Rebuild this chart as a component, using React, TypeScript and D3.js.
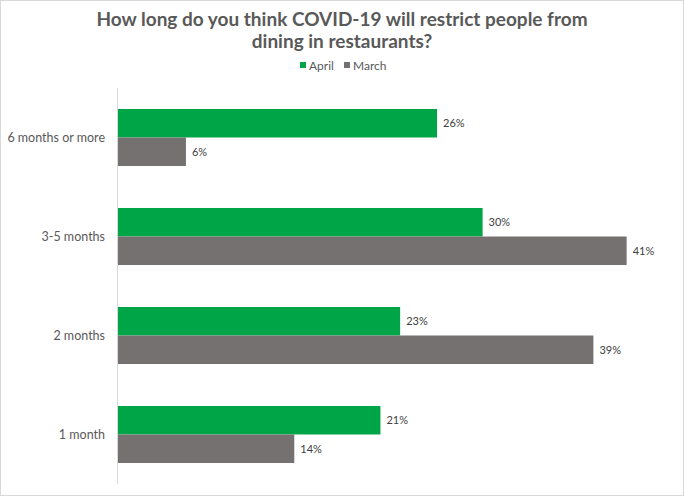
import { useEffect, useRef } from 'react';
import * as d3 from 'd3';

const categories = ['6 months or more', '3-5 months', '2 months', '1 month'];
const series = ['April', 'March'];
const april = [0.26, 0.297, 0.23, 0.214];
const march = [0.056, 0.414, 0.387, 0.144];
const colors = ['#00a548', '#767171'];
const titleLines = ['How long do you think COVID-19 will restrict people from', 'dining in restaurants?'];

const W = 684;
const H = 496;
const FONT = 'Lato, "Open Sans", sans-serif';

export default function App() {
  const svgRef = useRef<SVGSVGElement>(null);

  useEffect(() => {
    document.body.style.margin = '0';
    if (!svgRef.current) return;
    const svg = d3.select(svgRef.current);
    svg.selectAll('*').remove();

    const margin = { top: 88, right: 14, bottom: 12, left: 117 };
    const plotH = H - margin.top - margin.bottom;

    // border
    svg.append('rect')
      .attr('x', 0.5).attr('y', 0.5)
      .attr('width', W - 1).attr('height', H - 1)
      .attr('fill', '#fff')
      .attr('stroke', '#d9d9d9');

    // title
    svg.append('text')
      .attr('x', W / 2)
      .attr('text-anchor', 'middle')
      .style('font-family', FONT)
      .style('font-size', '19px')
      .style('font-weight', '700')
      .style('fill', '#595959')
      .selectAll('tspan')
      .data(titleLines)
      .enter()
      .append('tspan')
      .attr('x', W / 2)
      .attr('y', (_, i) => 26 + i * 22)
      .text(d => d);

    const g = svg.append('g').attr('transform', `translate(${margin.left},${margin.top})`);

    const x = d3.scaleLinear().domain([0, 0.45]).range([0, 0.45 * 1231]);
    const y = d3.scaleBand<string>().domain(categories).range([0, plotH]).paddingInner(0.424).paddingOuter(0.212);
    const y1 = d3.scaleBand<string>().domain(series).range([0, y.bandwidth()]);

    const rows = categories.map((c, i) => ({ cat: c, vals: [april[i], march[i]] }));

    const grp = g.selectAll('g.cat')
      .data(rows)
      .enter()
      .append('g')
      .attr('transform', d => `translate(0,${y(d.cat)})`);

    grp.selectAll('rect')
      .data(d => d.vals.map((v, j) => ({ s: series[j], v, j })))
      .enter()
      .append('rect')
      .attr('x', 0)
      .attr('y', d => y1(d.s) ?? 0)
      .attr('width', d => x(d.v))
      .attr('height', y1.bandwidth())
      .attr('fill', d => colors[d.j]);

    grp.selectAll('text.val')
      .data(d => d.vals.map((v, j) => ({ s: series[j], v, j })))
      .enter()
      .append('text')
      .attr('class', 'val')
      .attr('x', d => x(d.v) + 6)
      .attr('y', d => (y1(d.s) ?? 0) + y1.bandwidth() / 2)
      .attr('dy', '0.35em')
      .style('font-family', FONT)
      .style('font-size', '11px')
      .style('fill', '#404040')
      .text(d => d3.format('.0%')(d.v));

    // y axis
    const yAxis = g.append('g').call(d3.axisLeft(y).tickSize(0).tickPadding(12));
    yAxis.select('.domain').attr('stroke', '#d9d9d9').attr('d', `M0.5,0V${plotH}`);
    yAxis.selectAll('text')
      .style('font-family', FONT)
      .style('font-size', '12.5px')
      .style('fill', '#595959');

    // legend
    const legend = svg.append('g').attr('transform', 'translate(300,66)');
    const lx = [0, 44];
    series.forEach((s, i) => {
      legend.append('rect')
        .attr('x', lx[i]).attr('y', -4)
        .attr('width', 6).attr('height', 6)
        .attr('fill', colors[i]);
      legend.append('text')
        .attr('x', lx[i] + 9).attr('y', 0)
        .attr('dy', '0.35em')
        .style('font-family', FONT)
        .style('font-size', '12px')
        .style('fill', '#595959')
        .text(s);
    });
  }, []);

  return <svg ref={svgRef} width={W} height={H} style={{ display: 'block' }} />;
}
